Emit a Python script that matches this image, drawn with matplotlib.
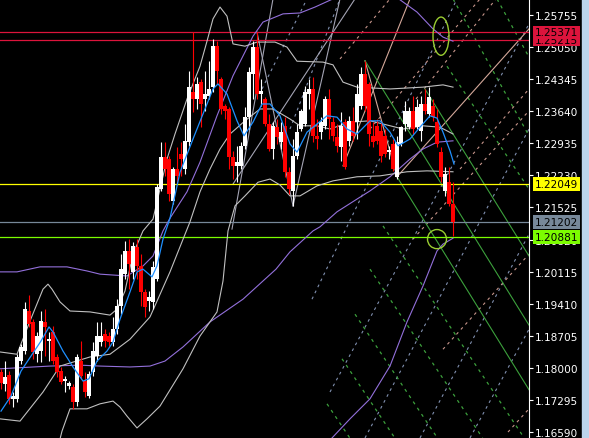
import matplotlib
matplotlib.use("Agg")
import matplotlib.pyplot as plt
import matplotlib.transforms as mtransforms
from matplotlib.patches import Ellipse, Rectangle

# ---- candles (one per bar, left to right) ----
opens = [1.1791, 1.1765, 1.1784, 1.1732, 1.1732, 1.1815, 1.1837, 1.1925, 1.1901, 1.1830,
         1.1837, 1.1901, 1.1859, 1.1879, 1.1824, 1.1793, 1.1771, 1.1760, 1.1758, 1.1725,
         1.1815, 1.1771, 1.1738, 1.1791, 1.1826, 1.1857, 1.1874, 1.1870, 1.1857, 1.1885,
         1.1936, 1.2006, 1.2057, 1.2011, 1.2066, 1.2024, 1.1967, 1.1947, 1.1945, 1.1995,
         1.2193, 1.2263, 1.2259, 1.2167, 1.2237, 1.2270, 1.2237, 1.2296, 1.2406, 1.2391,
         1.2428, 1.2391, 1.2398, 1.2417, 1.2507, 1.2435, 1.2375, 1.2369, 1.2263, 1.2244,
         1.2244, 1.2288, 1.2351, 1.2446, 1.2505, 1.2402, 1.2391, 1.2336, 1.2281, 1.2329,
         1.2296, 1.2332, 1.2231, 1.2189, 1.2266, 1.2325, 1.2336, 1.2402, 1.2413, 1.2310,
         1.2318, 1.2332, 1.2391, 1.2340, 1.2307, 1.2285, 1.2340, 1.2299, 1.2343, 1.2340,
         1.2375, 1.2446, 1.2424, 1.2310, 1.2332, 1.2321, 1.2310, 1.2274, 1.2292, 1.2220,
         1.2292, 1.2336, 1.2329, 1.2364, 1.2329, 1.2321, 1.2380, 1.2358, 1.2375, 1.2340,
         1.2274, 1.2189, 1.2209, 1.2160]
highs = [1.1797, 1.1815, 1.1793, 1.1747, 1.1831, 1.1852, 1.1945, 1.1960, 1.1907, 1.1879,
         1.1925, 1.1929, 1.1879, 1.1892, 1.1830, 1.1802, 1.1782, 1.1771, 1.1765, 1.1830,
         1.1859, 1.1791, 1.1793, 1.1856, 1.1901, 1.1901, 1.1885, 1.1879, 1.1912, 1.1951,
         1.2050, 1.2079, 1.2083, 1.2077, 1.2083, 1.2050, 1.1973, 1.1969, 1.2035, 1.2204,
         1.2296, 1.2296, 1.2266, 1.2242, 1.2285, 1.2296, 1.2336, 1.2452, 1.2538, 1.2439,
         1.2435, 1.2452, 1.2475, 1.2523, 1.2518, 1.2439, 1.2380, 1.2373, 1.2277, 1.2288,
         1.2296, 1.2373, 1.2461, 1.2518, 1.2538, 1.2435, 1.2396, 1.2358, 1.2340, 1.2347,
         1.2340, 1.2351, 1.2242, 1.2303, 1.2336, 1.2369, 1.2420, 1.2435, 1.2439, 1.2347,
         1.2351, 1.2398, 1.2413, 1.2351, 1.2336, 1.2362, 1.2347, 1.2354, 1.2373, 1.2424,
         1.2461, 1.2475, 1.2428, 1.2340, 1.2347, 1.2340, 1.2325, 1.2288, 1.2303, 1.2310,
         1.2332, 1.2387, 1.2373, 1.2398, 1.2391, 1.2398, 1.2413, 1.2417, 1.2391, 1.2369,
         1.2285, 1.2242, 1.2242, 1.2209]
lows = [1.1754, 1.1749, 1.1721, 1.1714, 1.1725, 1.1809, 1.1830, 1.1890, 1.1820, 1.1813,
        1.1813, 1.1826, 1.1815, 1.1809, 1.1780, 1.1765, 1.1747, 1.1754, 1.1710, 1.1716,
        1.1776, 1.1736, 1.1734, 1.1782, 1.1815, 1.1848, 1.1846, 1.1848, 1.1848, 1.1874,
        1.1918, 1.1995, 1.1973, 1.1995, 1.1995, 1.1936, 1.1912, 1.1925, 1.1929, 1.1991,
        1.2189, 1.2222, 1.2167, 1.2160, 1.2204, 1.2222, 1.2226, 1.2288, 1.2362, 1.2369,
        1.2330, 1.2364, 1.2391, 1.2406, 1.2424, 1.2358, 1.2347, 1.2237, 1.2215, 1.2209,
        1.2237, 1.2281, 1.2325, 1.2391, 1.2391, 1.2375, 1.2332, 1.2277, 1.2259, 1.2292,
        1.2281, 1.2220, 1.2182, 1.2156, 1.2259, 1.2321, 1.2332, 1.2369, 1.2296, 1.2281,
        1.2303, 1.2325, 1.2303, 1.2299, 1.2274, 1.2255, 1.2237, 1.2288, 1.2299, 1.2303,
        1.2369, 1.2364, 1.2288, 1.2285, 1.2292, 1.2253, 1.2263, 1.2259, 1.2233, 1.2215,
        1.2288, 1.2321, 1.2325, 1.2314, 1.2325, 1.2299, 1.2358, 1.2351, 1.2343, 1.2285,
        1.2209, 1.2178, 1.2156, 1.2090]
closes = [1.1767, 1.1780, 1.1732, 1.1738, 1.1824, 1.1845, 1.1929, 1.1896, 1.1835, 1.1870,
          1.1903, 1.1890, 1.1863, 1.1815, 1.1791, 1.1769, 1.1776, 1.1767, 1.1725, 1.1824,
          1.1782, 1.1747, 1.1786, 1.1837, 1.1870, 1.1870, 1.1859, 1.1857, 1.1885, 1.1936,
          1.2017, 1.2057, 1.2028, 1.2068, 1.2024, 1.1967, 1.1934, 1.1956, 1.2022, 1.2197,
          1.2263, 1.2237, 1.2182, 1.2237, 1.2222, 1.2259, 1.2299, 1.2417, 1.2391, 1.2424,
          1.2380, 1.2402, 1.2413, 1.2507, 1.2452, 1.2369, 1.2364, 1.2263, 1.2244, 1.2253,
          1.2288, 1.2351, 1.2450, 1.2505, 1.2402, 1.2409, 1.2336, 1.2281, 1.2332, 1.2307,
          1.2318, 1.2231, 1.2193, 1.2266, 1.2318, 1.2364, 1.2406, 1.2413, 1.2310, 1.2303,
          1.2340, 1.2391, 1.2347, 1.2310, 1.2288, 1.2332, 1.2242, 1.2343, 1.2310, 1.2402,
          1.2446, 1.2375, 1.2314, 1.2296, 1.2299, 1.2266, 1.2270, 1.2279, 1.2237, 1.2296,
          1.2329, 1.2364, 1.2364, 1.2325, 1.2373, 1.2380, 1.2364, 1.2395, 1.2351, 1.2292,
          1.2220, 1.2226, 1.2160, 1.2120]

# ---- indicator traces: (bar position, price) ----
ma_fast_x = [0, 2.5, 5, 7.5, 10, 12, 13, 15.5, 18, 20.5, 22, 24, 26.5, 28, 29.75, 32.25, 34, 35.5,
             37.75, 39, 40.5, 42.25, 44.75, 48, 50.5, 53, 54.25, 56.5, 59, 60.75, 63, 65.25, 67.25,
             69.75, 72.25, 74, 76.5, 79, 81.5, 84, 86.5, 89, 92.25, 94.75, 97.25, 99.25, 102.25,
             104.75, 107.25, 109, 110.5, 112.25, 113.25]
ma_fast_y = [1.1705, 1.1738, 1.1793, 1.1826, 1.1859, 1.1890, 1.1879, 1.1837, 1.1802, 1.1771, 1.1776,
             1.1815, 1.1837, 1.1857, 1.1907, 1.1967, 1.2011, 1.2017, 1.2000, 1.2024, 1.2083, 1.2129,
             1.2230, 1.2303, 1.2358, 1.2413, 1.2424, 1.2402, 1.2343, 1.2310, 1.2340, 1.2380, 1.2380,
             1.2354, 1.2292, 1.2274, 1.2318, 1.2336, 1.2354, 1.2351, 1.2325, 1.2314, 1.2343, 1.2343,
             1.2318, 1.2288, 1.2303, 1.2329, 1.2354, 1.2349, 1.2318, 1.2277, 1.2248]

bb_up_x = [-0.25, 4, 7.25, 10.5, 11.75, 12.75, 14.75, 17.25, 22.25, 27.25, 29, 31, 33, 35.5, 38,
           39.75, 41.5, 43.5, 46.5, 49.75, 51.5, 53, 54.75, 56.5, 58, 61, 64, 68.5, 71.5, 74,
           80.5, 83, 85.5, 89, 97.25, 105.5, 110.5, 113]
bb_up_y = [1.1835, 1.1830, 1.1903, 1.1973, 1.1984, 1.1973, 1.1945, 1.1925, 1.1923, 1.1916, 1.1929,
           1.1969, 1.2050, 1.2101, 1.2127, 1.2193, 1.2259, 1.2314, 1.2391, 1.2463, 1.2518, 1.2567,
           1.2593, 1.2573, 1.2512, 1.2507, 1.2516, 1.2516, 1.2505, 1.2474, 1.2472, 1.2466, 1.2428,
           1.2417, 1.2413, 1.2417, 1.2422, 1.2417]
bb_mid_x = [-0.25, 4.75, 10.5, 14.75, 22.25, 27.25, 32.25, 37.25, 42.25, 47.25, 49.75, 52.25, 54.75,
            57.25, 61, 64.75, 68, 72.25, 74.75, 79, 82.25, 87.25, 92.25, 95.5, 100.5, 105.5, 109.75, 113]
bb_mid_y = [1.1688, 1.1683, 1.1747, 1.1804, 1.1824, 1.1830, 1.1863, 1.1912, 1.2011, 1.2121, 1.2187,
            1.2237, 1.2281, 1.2314, 1.2343, 1.2369, 1.2369, 1.2347, 1.2332, 1.2332, 1.2325, 1.2340,
            1.2343, 1.2336, 1.2325, 1.2332, 1.2329, 1.2314]
bb_low_x = [13.5, 15.25, 17.25, 21.5, 24.75, 28, 29.75, 31.5, 34, 36.5, 39.75, 45.5, 49.75, 54, 55.5,
            56.75, 58.5, 61, 64.25, 67.25, 69.75, 72.25, 74.75, 79, 83, 89, 94.75, 101.5, 106.5, 113]
bb_low_y = [1.1600, 1.1661, 1.1710, 1.1710, 1.1721, 1.1727, 1.1714, 1.1694, 1.1668, 1.1688, 1.1716,
            1.1798, 1.1870, 1.1923, 1.1991, 1.2101, 1.2156, 1.2178, 1.2208, 1.2215, 1.2202, 1.2178,
            1.2178, 1.2200, 1.2211, 1.2220, 1.2222, 1.2231, 1.2233, 1.2231]

env_up_x = [-0.25, 4, 9.75, 16.5, 21.5, 24.75, 31.5, 35.5, 38, 40.5, 42.25, 46.5, 49.75, 54, 58, 63,
            65.5, 70.5, 74.75, 78.5, 83, 89.75, 96, 99.75, 104, 108, 110.5, 113]
env_up_y = [1.2011, 1.2011, 1.2022, 1.2022, 1.2013, 1.2006, 1.2002, 1.2024, 1.2046, 1.2101, 1.2129,
            1.2187, 1.2252, 1.2354, 1.2442, 1.2529, 1.2560, 1.2578, 1.2580, 1.2593, 1.2611, 1.2637,
            1.2628, 1.2609, 1.2582, 1.2545, 1.2527, 1.2518]
env_mid_x = [-0.25, 12.25, 19.75, 24.75, 32.25, 37.25, 41, 45.5, 52.25, 60.5, 68.75, 72.25, 78,
             79.75, 84, 89, 92.25, 97.25, 102.25, 105.5, 109, 113]
env_mid_y = [1.1798, 1.1804, 1.1806, 1.1804, 1.1802, 1.1804, 1.1815, 1.1846, 1.1901, 1.1951, 1.2017,
             1.2055, 1.2101, 1.2110, 1.2143, 1.2171, 1.2189, 1.2220, 1.2259, 1.2281, 1.2296, 1.2299]
env_low_x = [77.25, 82.75, 87.25, 92.25, 97.25, 101.5, 105.5, 109, 110.5, 113]
env_low_y = [1.1578, 1.1646, 1.1688, 1.1732, 1.1804, 1.1901, 1.1980, 1.2057, 1.2072, 1.2085]

# ---- horizontal levels ----
level_prices = [1.25215, 1.25371, 1.22049, 1.21202, 1.20881]
level_colors = ["#dc143c", "#dc143c", "#ffff00", "#778899", "#7cfc00"]

# ---- drawn trend objects: ((bar, price), (bar, price)) ----
grey_lines = [((64, 1.2538), (73, 1.2156)), ((73, 1.2156), (84.75, 1.2611)),
              ((57.75, 1.2105), (68, 1.2611)), ((58, 1.2204), (88.5, 1.2611))]
salmon_lines = [((91, 1.2475), (99, 1.2220)), ((85.5, 1.2244), (102.25, 1.2611)),
                ((99, 1.2220), (132, 1.2545))]
fork_lines = [((91, 1.2475), (132, 1.1894)), ((99, 1.2220), (132, 1.1752)),
              ((106, 1.2413), (132, 1.2046))]
green_dash = [((81.5, 1.1721), (87.2, 1.1646)), ((85.25, 1.1820), (98.45, 1.1646)),
              ((88.5, 1.1918), (109.1, 1.1646)), ((92.25, 1.2017), (120.4, 1.1646)),
              ((95.5, 1.2112), (130.8, 1.1646)), ((113, 1.2611), (132, 1.2310)),
              ((124, 1.2611), (132, 1.2483)), ((111.5, 1.2463), (132, 1.2193))]
slate_dash = [((72.25, 1.2325), (84.75, 1.2611)), ((77.75, 1.1951), (114, 1.2611)),
              ((82.25, 1.1747), (132, 1.2556)), ((91, 1.1646), (132, 1.2325)),
              ((104.75, 1.1646), (132, 1.2094)), ((117.25, 1.1646), (132, 1.1885)),
              ((65.25, 1.2413), (76.5, 1.2611))]
salmon_dash = [((103, 1.2083), (132, 1.2365)), ((110.5, 1.1841), (132, 1.2050)),
               ((126.75, 1.1659), (132, 1.1710)), ((92.25, 1.2325), (119.75, 1.2611)),
               ((103.75, 1.2391), (123.75, 1.2611)), ((114.75, 1.2237), (132, 1.2413)),
               ((84.75, 1.2479), (97.25, 1.2611))]

price_ticks = [1.25755, 1.25050, 1.24345, 1.23640, 1.22935, 1.22230, 1.21525,
               1.20820, 1.20115, 1.19410, 1.18705, 1.18000, 1.17295, 1.16590]

W, H = 589, 439
fig = plt.figure(figsize=(W / 100, H / 100), dpi=100, facecolor="black")
ax = fig.add_axes([0, 0, 529 / W, 1])
ax.set_facecolor("black")
ax.set_xlim(-0.25, 132)
ax.set_ylim(1.16459, 1.26107)

dash = (0, (2.5, 3.5))


def draw_segments(segs, color, ls="-", lw=0.8):
    for (x0, y0), (x1, y1) in segs:
        ax.plot([x0, x1], [y0, y1], color=color, lw=lw, ls=ls, zorder=2)


draw_segments(slate_dash, "#8090b0", dash)
draw_segments(salmon_dash, "#c8968c", dash)
draw_segments(green_dash, "#3ca03c", dash, lw=0.9)
draw_segments(grey_lines, "#a4a4b4")
draw_segments(salmon_lines, "#d4a89a")
draw_segments(fork_lines, "#3ca03c")

for xs, ys in [(env_up_x, env_up_y), (env_mid_x, env_mid_y), (env_low_x, env_low_y)]:
    ax.plot(xs, ys, color="#9370db", lw=0.8, zorder=3)
for xs, ys in [(bb_up_x, bb_up_y), (bb_mid_x, bb_mid_y), (bb_low_x, bb_low_y)]:
    ax.plot(xs, ys, color="#c0c0c0", lw=0.8, zorder=3)

for p, c in zip(level_prices, level_colors):
    ax.axhline(p, color=c, lw=0.9, zorder=2.5)

# candles
for i, (o, h, l, c) in enumerate(zip(opens, highs, lows, closes)):
    col = "white" if c >= o else "#ff0000"
    ax.vlines(i, l, h, color=col, lw=0.8, zorder=4)
    body = max(abs(c - o), 0.00022)
    ax.bar(i, body, bottom=min(o, c), width=0.8, color=col, lw=0, zorder=4)

ax.plot(ma_fast_x, ma_fast_y, color="#1e90ff", lw=0.9, zorder=5)

ax.add_patch(Ellipse((110, 1.2529), 4, 0.0084, fill=False, ec="#9acd32", lw=1, zorder=6))
ax.add_patch(Ellipse((109, 1.2083), 4.75, 0.0042, fill=False, ec="#9acd32", lw=1, zorder=6))

# axes / price scale
for s in ["left", "top", "bottom"]:
    ax.spines[s].set_visible(False)
ax.spines["right"].set_color("white")
ax.spines["right"].set_linewidth(0.8)
ax.set_xticks([])
ax.yaxis.tick_right()
ax.set_yticks(price_ticks)
ax.set_yticklabels([f"{t:.5f}" for t in price_ticks])
ax.tick_params(axis="y", colors="white", length=3, width=0.8, pad=1.5, labelsize=7.6)

trans = mtransforms.blended_transform_factory(ax.transAxes, ax.transData)
label_x = 534.5 / 529
for p, c in zip(level_prices, level_colors):
    ax.text(label_x, p, f"{p:.5f}", transform=trans, ha="left", va="center", fontsize=7.6,
            color="black", zorder=10,
            bbox=dict(boxstyle="square,pad=0.18", fc=c, ec="none"))

fig.patches.append(Rectangle((582 / W, 0), 7 / W, 1, transform=fig.transFigure,
                             color="#bcd4ec", zorder=0))

fig.savefig("out.png", dpi=100, facecolor="black")
